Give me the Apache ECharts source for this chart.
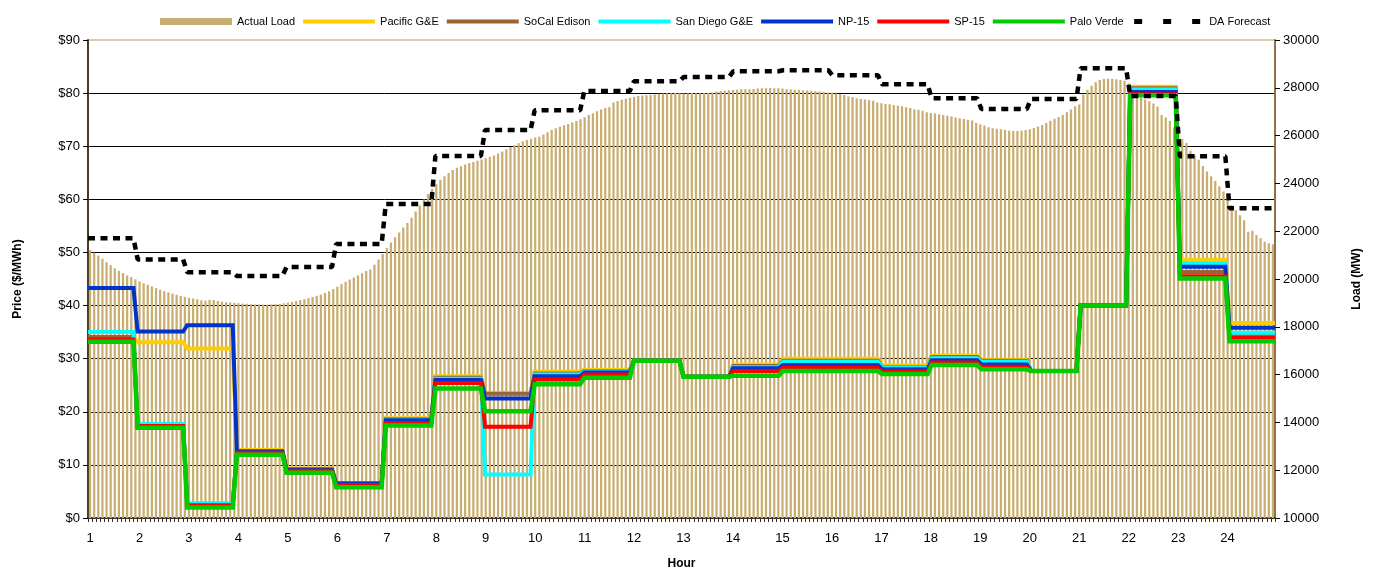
<!DOCTYPE html>
<html>
<head>
<meta charset="utf-8">
<script src="https://cdn.jsdelivr.net/npm/echarts@6/dist/echarts.min.js"></script>
<style>
html,body{margin:0;padding:0;background:#fff;}
#c{width:1374px;height:570px;}
</style>
</head>
<body>
<div id="c"></div>
<script>
// Hour tick labels
const hourLabels = ['1','2','3','4','5','6','7','8','9','10','11','12','13','14','15','16','17','18','19','20','21','22','23','24'];

// Hourly prices ($/MWh)
const pacificGE   = [34.1,33.1,31.9,12.8,9.3,6.6,18.8,26.7,23.5,27.6,27.9,29.6,26.6,28.9,30.0,30.0,28.7,30.6,29.8,27.7,40.0,81.2,48.6,36.7];
const socalEdison = [34.1,17.3,2.5,12.6,9.2,6.5,18.6,26.4,23.4,27.2,27.7,29.6,26.6,28.6,29.6,29.6,28.4,30.3,29.6,27.7,40.0,80.9,46.3,34.3];
const sanDiegoGE  = [35.0,17.7,2.8,12.5,9.1,6.4,18.5,26.2,8.2,27.0,27.6,29.6,26.6,28.4,29.4,29.4,28.3,30.1,29.4,27.7,40.0,80.7,47.9,34.9];
const np15        = [43.3,35.1,36.3,12.5,9.1,6.5,18.4,26.0,22.5,26.7,27.4,29.6,26.6,28.2,28.8,28.8,28.0,29.7,28.9,27.7,40.0,80.2,47.3,35.8];
const sp15        = [33.6,17.3,2.4,12.3,8.9,6.2,17.9,25.4,17.2,26.1,27.0,29.6,26.6,27.7,28.3,28.3,27.6,29.3,28.5,27.7,40.0,79.8,45.5,33.9];
const paloVerde   = [33.2,17.0,2.0,11.9,8.5,5.8,17.4,24.4,20.1,25.2,26.4,29.6,26.6,26.8,27.7,27.7,27.1,28.8,28.0,27.7,40.0,79.6,45.1,33.3];

// Hourly day-ahead load forecast (MW)
const daForecast = [21700,20820,20280,20125,20500,21460,23140,25150,26230,27057,27866,28270,28452,28690,28732,28523,28146,27560,27113,27531,28816,27657,25134,22958];

// Actual load, 5-minute intervals (MW)
const actualLoad = [
21200,21100,20980,20850,20700,20580,20450,20340,20250,20150,20080,19990,
19900,19820,19760,19690,19620,19550,19490,19440,19390,19340,19290,19250,
19210,19180,19150,19110,19090,19130,19120,19080,19050,19030,19020,19000,
18990,18970,18960,18950,18940,18940,18930,18930,18940,18950,18960,18980,
19010,19040,19080,19120,19160,19200,19250,19300,19350,19420,19490,19580,
19680,19780,19880,19980,20060,20150,20240,20330,20400,20600,20820,21050,
21300,21530,21750,21950,22150,22340,22560,22820,23080,23330,23560,23780,
23980,24150,24300,24440,24560,24650,24720,24790,24850,24900,24950,25000,
25050,25100,25170,25250,25330,25430,25520,25600,25680,25760,25820,25870,
25920,25950,26050,26140,26230,26310,26370,26430,26490,26550,26610,26680,
26770,26860,26940,27020,27090,27150,27200,27380,27450,27500,27540,27580,
27620,27660,27680,27690,27700,27720,27750,27760,27770,27770,27780,27770,
27760,27770,27780,27770,27770,27780,27780,27800,27840,27870,27880,27900,
27910,27920,27940,27940,27940,27950,27970,27980,27980,27990,27980,27980,
27970,27940,27930,27920,27910,27900,27890,27875,27860,27840,27820,27800,
27790,27760,27740,27700,27640,27610,27560,27530,27510,27490,27460,27390,
27350,27320,27310,27280,27250,27230,27190,27150,27100,27080,27040,26980,
26950,26920,26890,26860,26830,26800,26760,26730,26690,26660,26630,26530,
26470,26420,26350,26310,26290,26270,26230,26200,26190,26190,26200,26230,
26270,26320,26380,26440,26530,26620,26700,26780,26860,26980,27090,27230,
27300,27720,27920,28090,28230,28330,28370,28380,28380,28360,28330,28300,
28190,27770,27720,27590,27510,27440,27340,27220,26860,26760,26620,26340,
26100,25870,25690,25370,25170,24990,24730,24500,24300,24100,23880,23660,
23440,23090,22880,22670,22460,21980,22020,21840,21700,21560,21500,21450
];

// 5-minute interval categories (12 per hour)
const minutes = ['00','05','10','15','20','25','30','35','40','45','50','55'];
const categories = [];
hourLabels.forEach(h => minutes.forEach(m => categories.push(h + ':' + m)));

// hourly value applies to each 5-minute interval of that hour
function perInterval(hourly) {
  const out = [];
  hourly.forEach(v => { for (let k = 0; k < minutes.length; k++) out.push(v); });
  return out;
}

const FONT = 'Arial, "Liberation Sans", sans-serif';
const chart = echarts.init(document.getElementById('c'), null, {renderer: 'canvas'});

const lineSeries = (name, data, color, width, z) => ({
  name, type: 'line', xAxisIndex: 1, yAxisIndex: 0, data: perInterval(data),
  symbol: 'none', showSymbol: false, z: z,
  lineStyle: {color, width, cap: 'butt', join: 'miter'}, itemStyle: {color},
  animation: false, silent: true
});

chart.setOption({
  animation: false,
  backgroundColor: '#ffffff',
  textStyle: {fontFamily: FONT, color: '#000'},
  legend: {
    top: 11, left: 155, itemWidth: 72, itemHeight: 7, itemGap: 6,
    textStyle: {fontSize: 11, color: '#000', fontFamily: FONT},
    lineStyle: {width: 4},
    itemStyle: {opacity: 0},
    data: [
      {name: 'Actual Load', icon: 'rect', itemStyle: {opacity: 1, color: '#C9AE72'}},
      {name: 'Pacific G&E'},
      {name: 'SoCal Edison'},
      {name: 'San Diego G&E'},
      {name: 'NP-15'},
      {name: 'SP-15'},
      {name: 'Palo Verde'},
      {name: 'DA Forecast', lineStyle: {type: [8, 21], width: 5, dashOffset: -2}}
    ]
  },
  grid: {left: 88, right: 99, top: 40, bottom: 52, show: true, borderColor: '#B89A5C', borderWidth: 1, backgroundColor: 'transparent', containLabel: false, outerBoundsMode: 'none'},
  xAxis: [
    {
      type: 'category', data: categories, boundaryGap: true,
      name: 'Hour', nameLocation: 'middle', nameGap: 40,
      nameTextStyle: {fontWeight: 'bold', fontSize: 12, color: '#000', fontFamily: FONT},
      axisLine: {show: true, lineStyle: {color: '#3f3420', width: 2}},
      axisTick: {show: true, interval: 0, length: 4, lineStyle: {color: '#333', width: 1}},
      axisLabel: {interval: 11, margin: 14, fontSize: 13, color: '#000', fontFamily: FONT,
        formatter: (v, i) => hourLabels[Math.floor(i / 12)]},
      splitLine: {show: false}
    },
    {
      type: 'category', data: categories, boundaryGap: false, show: false
    }
  ],
  yAxis: [
    {
      type: 'value', min: 0, max: 90, interval: 10, position: 'left',
      name: 'Price ($/MWh)', nameLocation: 'middle', nameGap: 64,
      nameTextStyle: {fontWeight: 'bold', fontSize: 12, color: '#000', fontFamily: FONT},
      axisLine: {show: true, lineStyle: {color: '#4a3c20', width: 2}},
      axisTick: {show: true, length: 5, lineStyle: {color: '#000'}},
      axisLabel: {fontSize: 13, color: '#000', margin: 8, fontFamily: FONT, formatter: v => '$' + v},
      splitLine: {show: true, showMinLine: false, showMaxLine: false, lineStyle: {color: '#000', width: 1}}
    },
    {
      type: 'value', min: 10000, max: 30000, interval: 2000, position: 'right',
      name: 'Load (MW)', nameLocation: 'middle', nameGap: 76,
      nameTextStyle: {fontWeight: 'bold', fontSize: 12, color: '#000', fontFamily: FONT},
      axisLine: {show: true, lineStyle: {color: '#8a7344', width: 2}},
      axisTick: {show: true, length: 5, lineStyle: {color: '#000'}},
      axisLabel: {fontSize: 13, color: '#000', margin: 8, fontFamily: FONT, formatter: v => String(v)},
      splitLine: {show: false}
    }
  ],
  series: [
    {
      name: 'Actual Load', type: 'bar', xAxisIndex: 0, yAxisIndex: 1, data: actualLoad,
      barCategoryGap: '45%', itemStyle: {color: '#C9AE72'}, z: 1, silent: true, animation: false
    },
    lineSeries('Pacific G&E', pacificGE, '#FFCC00', 4, 3),
    lineSeries('SoCal Edison', socalEdison, '#996633', 4, 4),
    lineSeries('San Diego G&E', sanDiegoGE, '#00FFFF', 4, 5),
    lineSeries('NP-15', np15, '#0033CC', 4, 6),
    lineSeries('SP-15', sp15, '#FF0000', 4, 7),
    lineSeries('Palo Verde', paloVerde, '#00CC00', 4.5, 8),
    {
      name: 'DA Forecast', type: 'line', xAxisIndex: 1, yAxisIndex: 1, data: perInterval(daForecast),
      symbol: 'none', showSymbol: false, z: 9,
      lineStyle: {color: '#000', width: 4.5, type: [7, 5.5], cap: 'butt'}, itemStyle: {color: '#000'},
      animation: false, silent: true
    }
  ]
});
</script>
</body>
</html>
